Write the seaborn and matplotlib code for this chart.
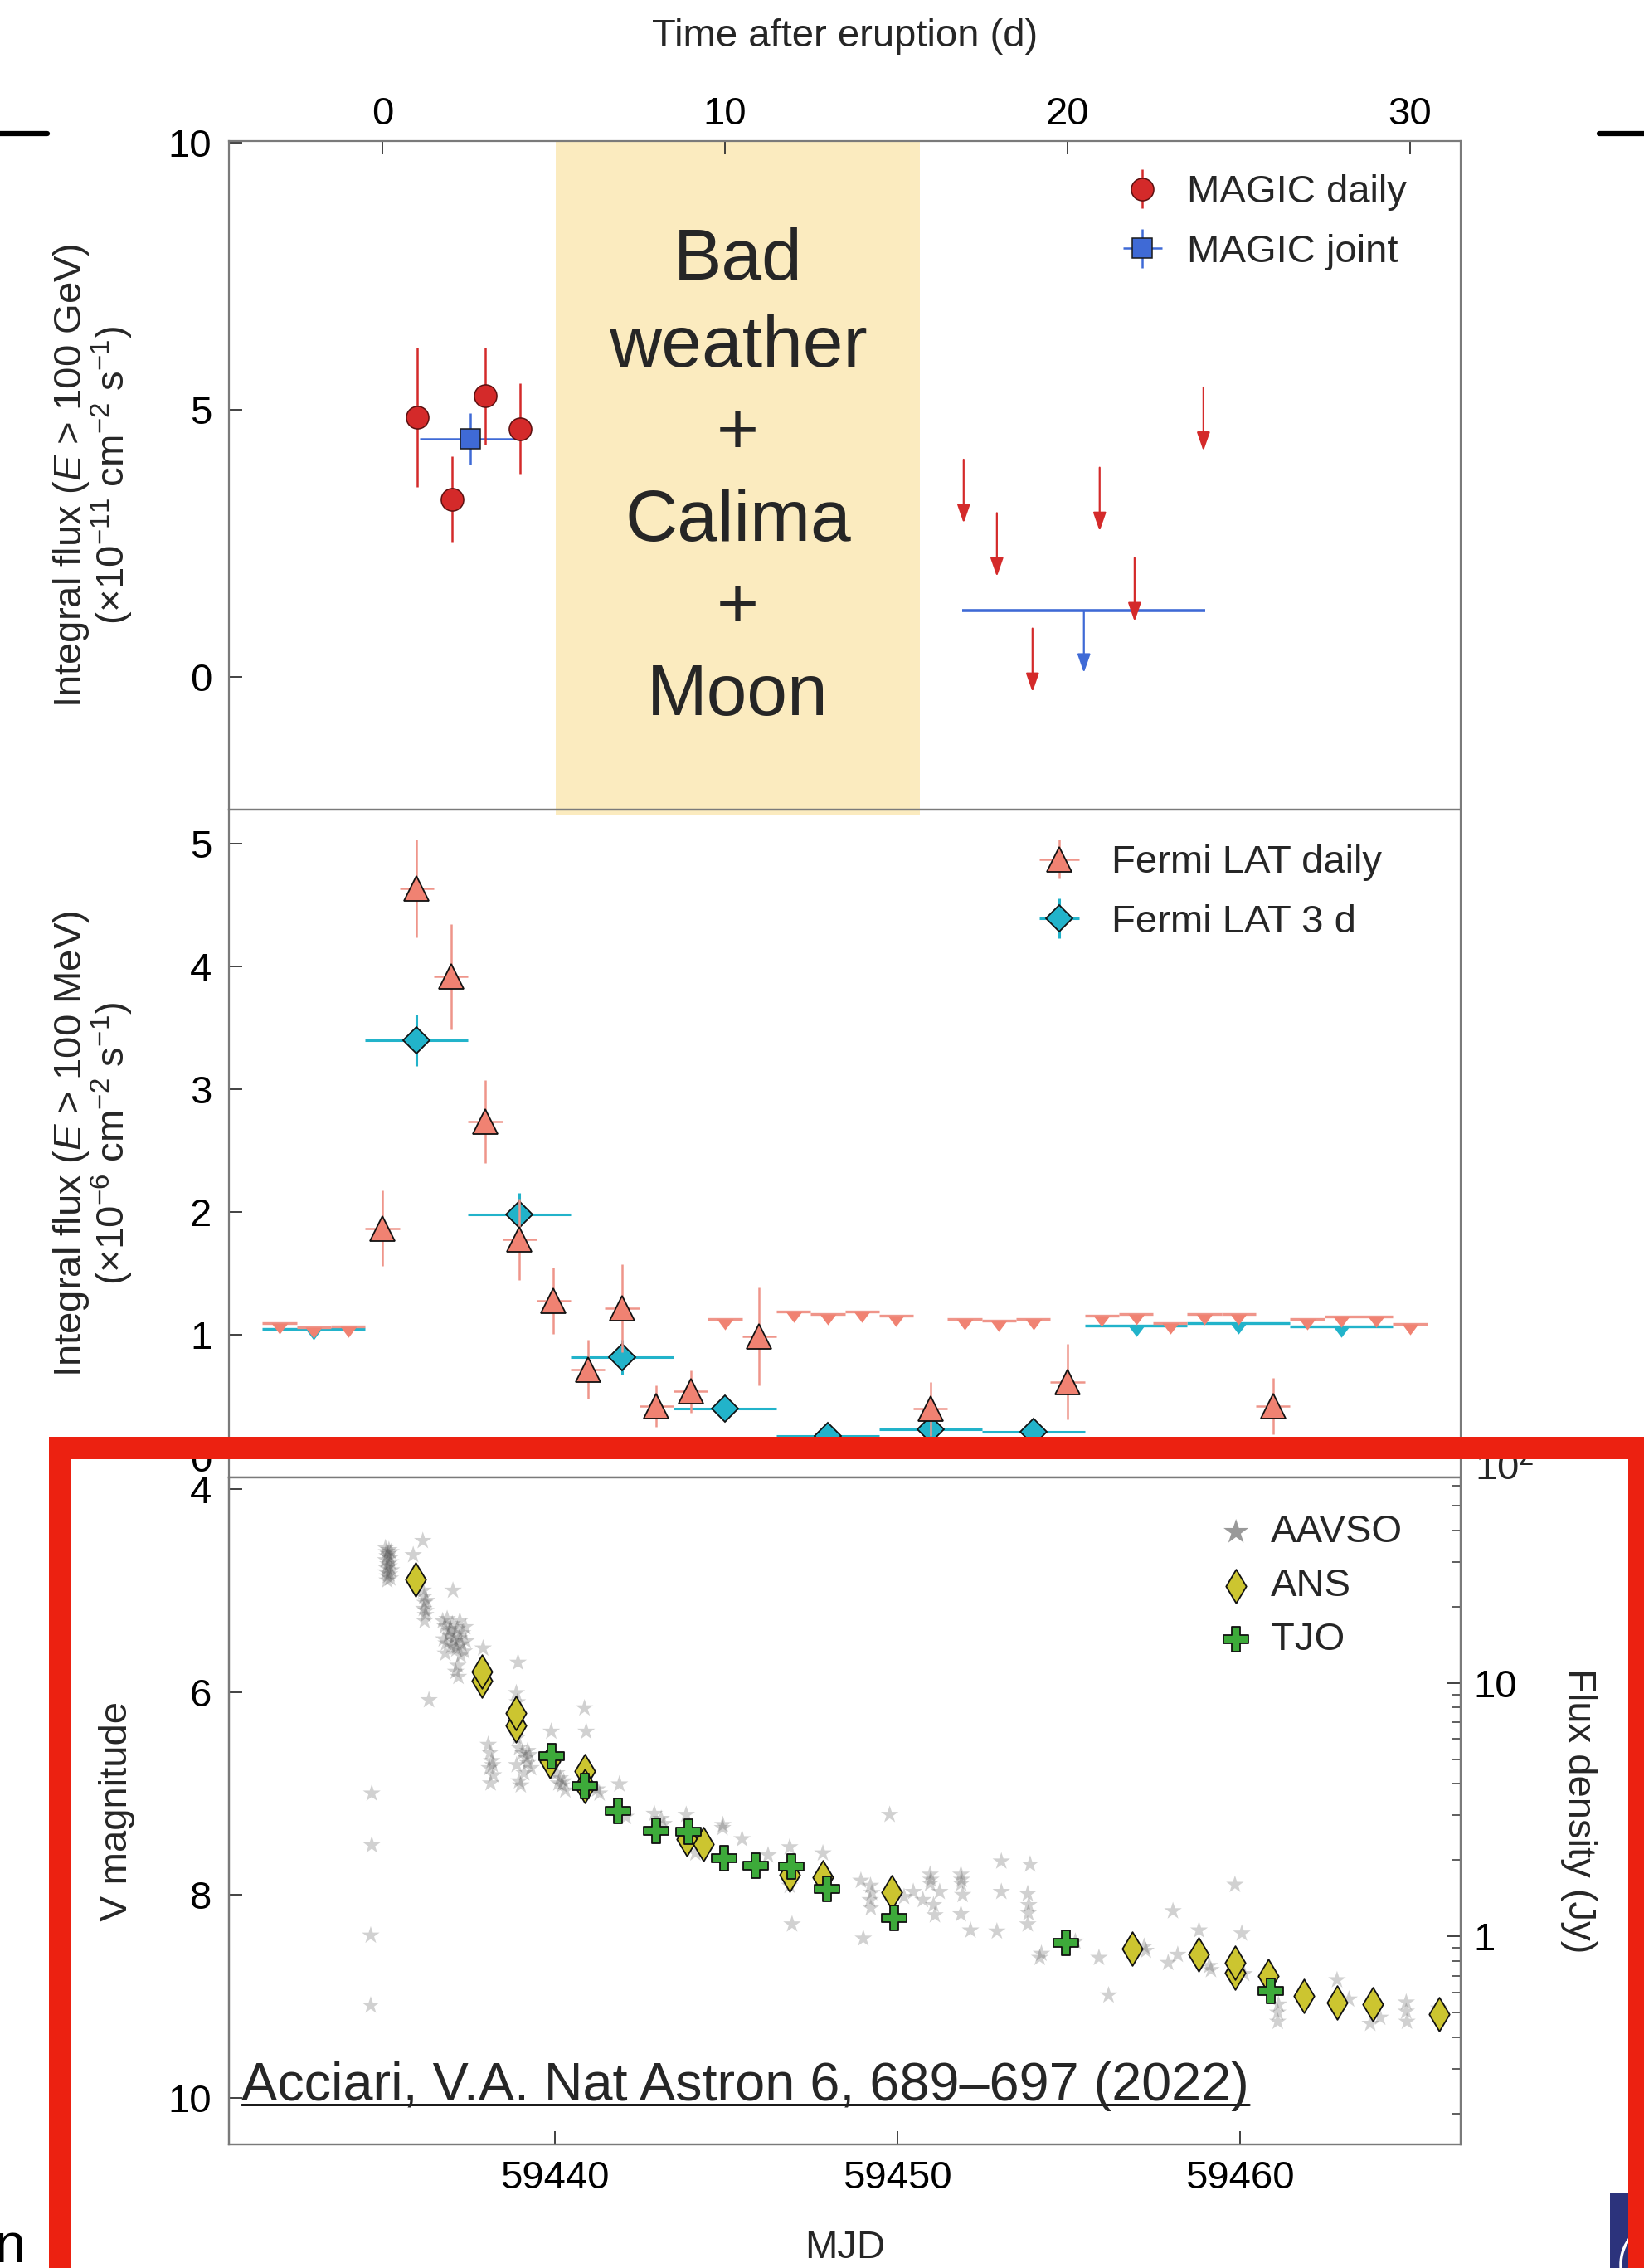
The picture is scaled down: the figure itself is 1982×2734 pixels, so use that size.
import numpy as np
import pandas as pd
import matplotlib
matplotlib.use("Agg")
import matplotlib.pyplot as plt
import seaborn as sns
from matplotlib.patches import Rectangle, Arc
from matplotlib.lines import Line2D
from matplotlib.path import Path
from matplotlib.ticker import FixedLocator, LogLocator, NullFormatter, FixedFormatter

# ------------------------------------------------------------------ data
T0_MJD = 59434.96                      # eruption epoch (MJD)

# MAGIC (> 100 GeV), x in days after eruption
magic_t = [1.02, 2.03, 3.00, 4.02]
magic_flux = [4.86, 3.33, 5.26, 4.65]
magic_err = [1.30, 0.80, 0.91, 0.85]
magic_joint_t = [2.57]
magic_joint_terr = [1.49]
magic_joint_flux = [4.46]
magic_joint_err = [0.48]
magic_ul_t = [16.97, 17.94, 18.98, 20.94, 21.96, 23.97]
magic_ul_flux = [4.07, 3.07, 0.91, 3.92, 2.23, 5.42]
magic_ul_arrow = 1.19
magic_joint_ul_t = [20.48]
magic_joint_ul_terr = [3.55]
magic_joint_ul_flux = [1.24]
magic_joint_ul_arrow = 1.16
bad_weather_t = [5.06, 15.70]

# Fermi LAT (> 100 MeV)
fermi_daily_t = [0, 1, 2, 3, 4, 5, 6, 7, 8, 9, 11, 16, 20, 26]
fermi_daily_flux = [1.87, 4.64, 3.92, 2.74, 1.78, 1.28, 0.72, 1.22, 0.42, 0.54, 0.99, 0.40, 0.62, 0.42]
fermi_daily_err = [0.31, 0.40, 0.43, 0.34, 0.33, 0.27, 0.24, 0.36, 0.17, 0.17, 0.40, 0.22, 0.31, 0.23]
fermi_daily_halfbin = 0.5
fermi_daily_ul_t = [-3, -2, -1, 10, 12, 13, 14, 15, 17, 18, 19, 21, 22, 23, 24, 25, 27, 28, 29, 30]
fermi_daily_ul_flux = [1.10, 1.06, 1.07, 1.13, 1.19, 1.17, 1.19, 1.16, 1.13, 1.12, 1.13,
                       1.16, 1.17, 1.10, 1.17, 1.17, 1.13, 1.15, 1.15, 1.09]
fermi_3d_t = [1, 4, 7, 10, 13, 16, 19]
fermi_3d_flux = [3.40, 1.98, 0.82, 0.40, 0.18, 0.23, 0.21]
fermi_3d_err = [0.21, 0.18, 0.14, 0.10, 0.10, 0.10, 0.10]
fermi_3d_halfbin = 1.5
fermi_3d_ul_t = [-2, 22, 25, 28]
fermi_3d_ul_flux = [1.05, 1.08, 1.10, 1.07]

# Optical V band (MJD, mag)
aavso_mjd = [
    59435.05, 59435.08, 59435.10, 59435.06, 59435.12, 59435.09, 59435.07, 59435.11, 59435.15,
    59435.18, 59435.20, 59435.16, 59435.22, 59435.19, 59435.13, 59435.17, 59435.10, 59435.21,
    59435.86, 59436.14,
    59436.15, 59436.18, 59436.20, 59436.17, 59436.22, 59436.19, 59436.25, 59436.23,
    59437.02,
    59436.72, 59436.78, 59436.85, 59436.92, 59437.00, 59437.08, 59437.15, 59437.22, 59437.30, 59437.38,
    59436.75, 59436.82, 59436.90, 59436.97, 59437.05, 59437.12, 59437.20, 59437.27, 59437.35,
    59436.80, 59436.95, 59437.10, 59437.25, 59437.40,
    59437.10, 59437.16, 59437.18,
    59436.32, 59437.90, 59438.92, 59438.87, 59438.90,
    59438.05, 59438.10, 59438.15, 59438.08, 59438.20, 59438.12, 59438.18,
    59438.85, 59438.90, 59438.95, 59439.05, 59439.15, 59439.20, 59439.25, 59439.30, 59439.10,
    59438.95, 59439.00, 59439.20, 59438.88,
    59439.89,
    59440.05, 59440.15, 59440.20, 59440.30, 59440.10, 59440.25,
    59440.86, 59440.91, 59441.23, 59441.30, 59441.88, 59442.07,
    59442.90, 59443.18, 59443.10, 59443.83, 59444.10,
    59444.89, 59444.90, 59445.46, 59446.22, 59446.85, 59447.82, 59446.92, 59446.85,
    59448.93, 59449.21, 59449.25, 59449.20, 59449.22, 59449.00, 59449.77,
    59450.19, 59450.46,
    59450.95, 59450.97, 59450.95, 59451.23, 59451.09, 59450.74, 59451.05,
    59451.85, 59451.87, 59451.86, 59451.85, 59452.13, 59451.90,
    59453.03, 59453.03, 59452.90, 59453.87, 59453.80, 59453.82, 59453.80, 59453.83,
    59454.15, 59454.20, 59455.19, 59455.88, 59456.16, 59457.20, 59457.25,
    59458.04, 59457.90, 59458.18, 59458.80, 59459.15, 59459.10,
    59459.85, 59460.05, 59460.12, 59461.10, 59461.10, 59461.12,
    59462.83, 59463.18, 59464.09, 59463.80, 59464.85, 59464.85, 59464.87, 59465.80,
    59434.65, 59434.65, 59434.62, 59434.62,
]
aavso_v = [
    4.58, 4.62, 4.66, 4.70, 4.74, 4.78, 4.82, 4.86, 4.60,
    4.68, 4.72, 4.76, 4.80, 4.88, 4.64, 4.84, 4.90, 4.62,
    4.65, 4.51,
    5.00, 5.06, 5.12, 5.18, 5.24, 5.30, 5.10, 5.20,
    5.00,
    5.30, 5.35, 5.28, 5.40, 5.33, 5.45, 5.38, 5.30, 5.42, 5.36,
    5.48, 5.52, 5.44, 5.55, 5.50, 5.58, 5.47, 5.53, 5.60,
    5.62, 5.38, 5.56, 5.64, 5.50,
    5.80, 5.74, 5.85,
    6.08, 5.57, 5.71, 6.01, 6.10,
    6.52, 6.60, 6.68, 6.75, 6.82, 6.90, 6.72,
    6.30, 6.45, 6.55, 6.60, 6.65, 6.70, 6.62, 6.75, 6.80,
    6.88, 6.92, 6.58, 6.72,
    6.39,
    6.80, 6.85, 6.92, 6.97, 6.90, 6.88,
    6.16, 6.39, 6.96, 7.00, 6.91, 7.23,
    7.20, 7.30, 7.25, 7.21, 7.59,
    7.34, 7.31, 7.45, 7.61, 7.53, 7.59, 8.29, 7.91,
    7.86, 7.91, 7.98, 8.05, 8.13, 8.43, 7.21,
    8.02, 7.97,
    7.80, 7.85, 7.89, 7.97, 8.20, 8.05, 8.10,
    7.80, 7.85, 7.89, 8.19, 8.35, 8.00,
    7.67, 7.97, 8.36, 7.70, 7.99, 8.18, 8.29, 8.10,
    8.62, 8.58, 8.46, 8.62, 8.99, 8.51, 8.55,
    8.16, 8.67, 8.59, 8.35, 8.74, 8.70,
    7.90, 8.38, 8.78, 9.16, 9.25, 9.08,
    8.84, 9.03, 9.21, 9.27, 9.06, 9.15, 9.25, 9.12,
    7.00, 7.51, 8.40, 9.09,
]
ans_mjd = [59435.93, 59437.87, 59437.87, 59438.86, 59438.86, 59439.85, 59440.87, 59440.87,
           59443.85, 59444.34, 59446.85, 59447.82, 59449.84, 59456.86, 59458.80, 59459.85,
           59459.85, 59460.82, 59461.86, 59462.83, 59463.87, 59465.82]
ans_v = [4.89, 5.89, 5.80, 6.33, 6.21, 6.68, 6.78, 6.93,
         7.45, 7.50, 7.80, 7.83, 7.97, 8.53, 8.59, 8.77,
         8.67, 8.80, 9.00, 9.06, 9.08, 9.18]
tjo_mjd = [59439.90, 59440.87, 59441.84, 59442.95, 59443.90, 59444.94, 59445.86, 59446.91,
           59447.93, 59449.90, 59454.91, 59460.89]
tjo_v = [6.63, 6.93, 7.17, 7.37, 7.38, 7.64, 7.71, 7.72, 7.94, 8.23, 8.47, 8.95]
flux_zero_jy = 2312.0                 # V-band flux for V = 0 on the right-hand axis

time_ticks = [0, 10, 20, 30]
mjd_ticks = [59440, 59450, 59460]

# ------------------------------------------------------------------ style
sns.set_style("ticks")
plt.rcParams["font.family"] = ["Liberation Sans", "DejaVu Sans"]
plt.rcParams.update({
    "font.size": 34,
    "mathtext.fontset": "custom",
    "mathtext.rm": "Liberation Sans",
    "mathtext.it": "Liberation Sans:italic",
    "mathtext.bf": "Liberation Sans:bold",
    "axes.edgecolor": "#7a7a7a",
    "axes.linewidth": 1.6,
    "xtick.color": "#333333",
    "ytick.color": "#333333",
    "xtick.labelcolor": "black",
    "ytick.labelcolor": "black",
})

RED = "#D42A2A"
BLUE = "#3F6AD6"
SALMON = "#F08272"
SALMON_LINE = "#EF958A"
CYAN = "#22B3CA"
BAND = "#FBEBBF"
ANS_C = "#CCC530"
TJO_C = "#3DAA3A"
FRAME = "#EC2111"

DPI = 100
W, H = 1982, 2734
fig = plt.figure(figsize=(W / DPI, H / DPI), dpi=DPI)
fig.patch.set_facecolor("white")


def px_rect(l, t, r, b):
    return [l / W, 1 - b / H, (r - l) / W, (b - t) / H]


ax1 = fig.add_axes(px_rect(276, 170, 1761, 976))
ax2 = fig.add_axes(px_rect(276, 976, 1761, 1781))
ax3 = fig.add_axes(px_rect(276, 1781, 1761, 2585))
ax2.set_facecolor("none")

t_lim = (-4.48, 31.48)
mjd_lim = (T0_MJD + t_lim[0], T0_MJD + t_lim[1])

tick_kw = dict(direction="in", length=11.5, width=1.3)

# ------------------------------------------------------------------ top: MAGIC
ax1.axvspan(bad_weather_t[0], bad_weather_t[1], ymin=-0.008, ymax=1.0, color=BAND,
            lw=0, zorder=0, clip_on=False)
ax1.text(np.mean(bad_weather_t), 3.71, "Bad\nweather\n+\nCalima\n+\nMoon",
         ha="center", va="center", fontsize=63, linespacing=1.38, zorder=1)

ax1.errorbar(magic_joint_ul_t, magic_joint_ul_flux, xerr=magic_joint_ul_terr, fmt="none",
             ecolor=BLUE, elinewidth=2.6, zorder=2)
for t, f in zip(magic_joint_ul_t, magic_joint_ul_flux):
    ax1.annotate("", xy=(t, f - magic_joint_ul_arrow), xytext=(t, f),
                 arrowprops=dict(arrowstyle="-|>,head_length=0.46,head_width=0.16",
                                 color=BLUE, lw=1.6, mutation_scale=30, shrinkA=0, shrinkB=0))
for t, f in zip(magic_ul_t, magic_ul_flux):
    ax1.annotate("", xy=(t, f - magic_ul_arrow), xytext=(t, f),
                 arrowprops=dict(arrowstyle="-|>,head_length=0.46,head_width=0.16",
                                 color=RED, lw=1.6, mutation_scale=30, shrinkA=0, shrinkB=0))

eb_joint = ax1.errorbar(magic_joint_t, magic_joint_flux, xerr=magic_joint_terr,
                        yerr=magic_joint_err, fmt="s", ms=17.5, mfc=BLUE, mec="#1a1a1a",
                        mew=1.1, ecolor=BLUE, elinewidth=1.8, capsize=0, zorder=3,
                        label="MAGIC joint")
eb_daily = ax1.errorbar(magic_t, magic_flux, yerr=magic_err, fmt="o", ms=19.5, mfc=RED,
                        mec="#5a1010", mew=1.1, ecolor=RED, elinewidth=1.8, capsize=0,
                        zorder=4, label="MAGIC daily")

ax1.set_xlim(*t_lim)
ax1.set_ylim(-2.48, 10.03)
ax1.set_yticks([0, 5, 10])
ax1.set_xticks(time_ticks)
ax1.tick_params(axis="x", which="both", top=True, bottom=False, labeltop=True,
                labelbottom=False, pad=7, **tick_kw)
ax1.tick_params(axis="y", which="both", left=True, right=False, pad=15, **tick_kw)
ax1.set_xlabel("Time after eruption (d)")
ax1.xaxis.set_label_position("top")
ax1.xaxis.set_label_coords(0.5, 1.1414)
ax1.set_ylabel("Integral flux ($E$ > 100 GeV)\n($\\times$10$^{-11}$ cm$^{-2}$ s$^{-1}$)",
               linespacing=0.95)
ax1.yaxis.set_label_coords(-0.076, 0.5)
ax1.legend([eb_daily, eb_joint], ["MAGIC daily", "MAGIC joint"], loc="upper left",
           bbox_to_anchor=(0.7256, 0.950), frameon=False, fontsize=34, borderpad=0,
           borderaxespad=0, handlelength=1.0, handletextpad=0.65, labelspacing=0.58)

# ------------------------------------------------------------------ middle: Fermi
ul_marker = Path([(-0.75, 0.0), (0.75, 0.0), (0.0, -1.0), (-0.75, 0.0)],
                 [Path.MOVETO, Path.LINETO, Path.LINETO, Path.CLOSEPOLY])

ax2.errorbar(fermi_3d_ul_t, fermi_3d_ul_flux, xerr=fermi_3d_halfbin, fmt="none",
             ecolor=CYAN, elinewidth=2.4, zorder=2)
ax2.plot(fermi_3d_ul_t, fermi_3d_ul_flux, ls="none", marker=ul_marker, ms=19,
         mfc=CYAN, mec="none", zorder=2)
ax2.errorbar(fermi_daily_ul_t, fermi_daily_ul_flux, xerr=fermi_daily_halfbin, fmt="none",
             ecolor=SALMON_LINE, elinewidth=2.4, zorder=2)
ax2.plot(fermi_daily_ul_t, fermi_daily_ul_flux, ls="none", marker=ul_marker, ms=19,
         mfc=SALMON, mec="none", zorder=2)

eb_f3 = ax2.errorbar(fermi_3d_t, fermi_3d_flux, xerr=fermi_3d_halfbin, yerr=fermi_3d_err,
                     fmt="D", ms=16.5, mfc=CYAN, mec="#111111", mew=1.3, ecolor=CYAN,
                     elinewidth=2.2, capsize=0, zorder=3)
eb_fd = ax2.errorbar(fermi_daily_t, fermi_daily_flux, xerr=fermi_daily_halfbin,
                     yerr=fermi_daily_err, fmt="^", ms=21, mfc=SALMON, mec="#111111",
                     mew=1.3, ecolor=SALMON_LINE, elinewidth=1.8, capsize=0, zorder=4)

ax2.set_xlim(*t_lim)
ax2.set_ylim(-0.16, 5.28)
ax2.set_yticks([0, 1, 2, 3, 4, 5])
ax2.tick_params(axis="x", which="both", top=False, bottom=False, labeltop=False,
                labelbottom=False)
ax2.tick_params(axis="y", which="both", left=True, right=False, pad=15, **tick_kw)
ax2.set_ylabel("Integral flux ($E$ > 100 MeV)\n($\\times$10$^{-6}$ cm$^{-2}$ s$^{-1}$)",
               linespacing=0.95)
ax2.yaxis.set_label_coords(-0.076, 0.5)
ax2.legend([eb_fd, eb_f3], ["Fermi LAT daily", "Fermi LAT 3 d"], loc="upper left",
           bbox_to_anchor=(0.6582, 0.9476), frameon=False, fontsize=34, borderpad=0,
           borderaxespad=0, handlelength=1.0, handletextpad=0.84, labelspacing=0.58)

# ------------------------------------------------------------------ bottom: optical
opt = pd.DataFrame({"mjd": aavso_mjd, "v": aavso_v})
sns.scatterplot(data=opt, x="mjd", y="v", marker="*", s=260, color="#555555", alpha=0.27,
                edgecolor="none", linewidth=0, ax=ax3, label="AAVSO", zorder=2)
sns.scatterplot(x=ans_mjd, y=ans_v, marker="d", s=430, color=ANS_C, edgecolor="#111111",
                linewidth=1.3, ax=ax3, label="ANS", zorder=3)
sns.scatterplot(x=tjo_mjd, y=tjo_v, marker="P", s=470, color=TJO_C, edgecolor="#111111",
                linewidth=1.3, ax=ax3, label="TJO", zorder=4)

v_top, v_bot = 3.885, 10.46
ax3.set_xlim(*mjd_lim)
ax3.set_ylim(v_bot, v_top)
ax3.set_yticks([4, 6, 8, 10])
ax3.set_xticks(mjd_ticks)
ax3.tick_params(axis="x", which="both", top=False, bottom=True, pad=14, **tick_kw)
ax3.tick_params(axis="y", which="both", left=True, right=False, pad=15, **tick_kw)
ax3.set_xlabel("MJD")
ax3.xaxis.set_label_coords(0.5, -0.128)
ax3.set_ylabel("V magnitude")
ax3.yaxis.set_label_coords(-0.076, 0.5)

handles, labels = ax3.get_legend_handles_labels()
leg3 = ax3.legend(handles, labels, loc="upper left", bbox_to_anchor=(0.8017, 0.945),
                  frameon=False, fontsize=34, borderpad=0, borderaxespad=0,
                  handlelength=1.0, handletextpad=0.39, labelspacing=0.44,
                  markerscale=1.0)
leg3.legend_handles[0].set_alpha(0.6)
leg3.legend_handles[0].set_sizes([520])

ax3r = ax3.twinx()
ax3r.set_yscale("log")
ax3r.set_ylim(flux_zero_jy * 10 ** (-0.4 * v_bot), flux_zero_jy * 10 ** (-0.4 * v_top))
ax3r.yaxis.set_major_locator(FixedLocator([1, 10]))
ax3r.yaxis.set_major_formatter(FixedFormatter(["1", "10"]))
ax3r.yaxis.set_minor_locator(LogLocator(base=10, subs=np.arange(2, 10)))
ax3r.yaxis.set_minor_formatter(NullFormatter())
ax3r.tick_params(axis="y", which="major", right=True, left=False, direction="in",
                 length=11.5, width=1.3, pad=11)
ax3r.tick_params(axis="y", which="minor", right=True, left=False, direction="in",
                 length=8, width=1.1)
ax3r.text(1.0 + 17 / 1485, 0.996, "10$^2$", transform=ax3r.transAxes, ha="left",
          va="baseline", fontsize=34)
ax3r.text(1.0956, 0.5, "Flux density (Jy)", transform=ax3r.transAxes, rotation=270,
          ha="center", va="center", rotation_mode="anchor", fontsize=34)

# ------------------------------------------------------------------ annotations
cite = fig.text(291 / W, 1 - 2532 / H, "Acciari, V.A. Nat Astron 6, 689\u2013697 (2022)",
                ha="left", va="baseline", fontsize=46.6, zorder=50)

# slide remnants around the figure
fig.add_artist(Line2D([0, 57 / W], [1 - 161 / H] * 2, transform=fig.transFigure,
                      color="black", lw=4.5))
fig.add_artist(Line2D([1928 / W, 1], [1 - 161 / H] * 2, transform=fig.transFigure,
                      color="black", lw=4.5))
fig.text(-6 / W, 1 - 2727 / H, "n", fontsize=48, ha="left", va="baseline", color="black")
fig.add_artist(Rectangle((1941 / W, 0), 60 / W, (2734 - 2643) / H, transform=fig.transFigure,
                         facecolor="#2C337C", edgecolor="none", zorder=90))
fig.add_artist(Arc((1992 / W, 1 - 2730 / H), 76 / W, 90 / H, theta1=95, theta2=185,
                   transform=fig.transFigure, color="white", lw=2.5, zorder=91))
fig.add_artist(Rectangle((72 / W, 1 - 2737.5 / H), (1975.5 - 72) / W, (2737.5 - 1744.5) / H,
                         transform=fig.transFigure, fill=False, edgecolor=FRAME,
                         lw=27 * 72 / DPI, joinstyle="miter", zorder=100, clip_on=False))

fig.canvas.draw()
renderer = fig.canvas.get_renderer()
bb = cite.get_window_extent(renderer)
y_ul = (H - 2537) / H
fig.add_artist(Line2D([bb.x0 / W, bb.x1 / W], [y_ul, y_ul], transform=fig.transFigure,
                      color="black", lw=2.0, zorder=50))

fig.savefig("out.png", dpi=DPI, facecolor="white")
